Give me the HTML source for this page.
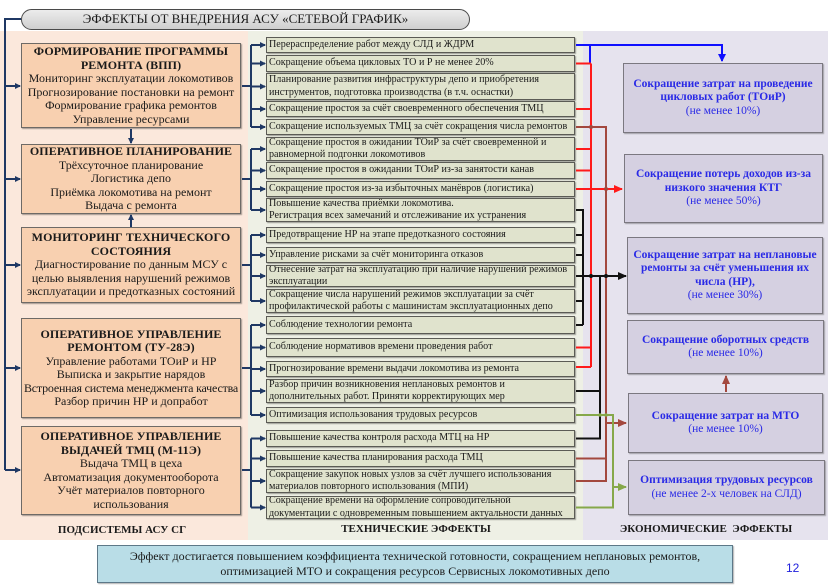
<!DOCTYPE html>
<html><head><meta charset="utf-8">
<style>
*{margin:0;padding:0;box-sizing:border-box}
body{width:840px;height:586px;background:#fff;position:relative;overflow:hidden;font-family:"Liberation Serif",serif;color:#1a1a1a}
.abs{position:absolute}
.panel{position:absolute;top:31px;height:509px}
.lbox{position:absolute;left:21px;width:220px;background:#f8d0b0;border:1.5px solid #6e6a66;box-shadow:1px 1px 1px rgba(0,0,0,.35);text-align:center;font-size:12px;line-height:13.5px;display:flex;flex-direction:column;justify-content:center}
.lbox b{font-size:12px;letter-spacing:.1px}
.mbox{position:absolute;left:266px;width:309px;background:#e0e3cd;border:1px solid #5b5b55;box-shadow:1px 1px 1px rgba(0,0,0,.35);font-size:10.1px;line-height:12.3px;padding-left:2px;display:flex;flex-direction:column;justify-content:center;white-space:nowrap;overflow:hidden}
.rbox{position:absolute;background:#d5d0e1;border:1.5px solid #7b7880;box-shadow:1px 1px 1px rgba(0,0,0,.3);text-align:center;color:#2a2ae6;font-size:11.5px;line-height:13.5px;display:flex;flex-direction:column;justify-content:center;white-space:nowrap}
.rbox b{font-weight:bold}
.lbl{position:absolute;font-weight:bold;font-size:11px;text-align:center;white-space:nowrap}
</style></head><body>

<div class="panel" style="left:0;width:248px;background:#fbe8dc"></div>
<div class="panel" style="left:248px;width:335px;background:#eef0e5"></div>
<div class="panel" style="left:583px;width:245px;background:#e6e3ee"></div>

<!-- Title capsule -->
<div class="abs" style="left:21px;top:9px;width:449px;height:21px;border:1.5px solid #4a4a4a;border-radius:11px;background:linear-gradient(#ececec,#cfcfcf);text-align:center;font-size:13px;line-height:18px;white-space:nowrap">ЭФФЕКТЫ ОТ ВНЕДРЕНИЯ АСУ «СЕТЕВОЙ ГРАФИК»</div>

<!-- Left boxes -->
<div class="lbox" style="top:43px;height:85px"><b>ФОРМИРОВАНИЕ ПРОГРАММЫ</b><b>РЕМОНТА (ВПП)</b><span>Мониторинг эксплуатации локомотивов</span><span>Прогнозирование постановки на ремонт</span><span>Формирование графика ремонтов</span><span>Управление ресурсами</span></div>
<div class="lbox" style="top:144px;height:70px"><b>ОПЕРАТИВНОЕ ПЛАНИРОВАНИЕ</b><span>Трёхсуточное планирование</span><span>Логистика депо</span><span>Приёмка локомотива на ремонт</span><span>Выдача с ремонта</span></div>
<div class="lbox" style="top:227px;height:76px"><b>МОНИТОРИНГ ТЕХНИЧЕСКОГО</b><b>СОСТОЯНИЯ</b><span>Диагностирование по данным МСУ с</span><span>целью выявления нарушений режимов</span><span>эксплуатации и предотказных состояний</span></div>
<div class="lbox" style="top:318px;height:100px"><b>ОПЕРАТИВНОЕ УПРАВЛЕНИЕ</b><b>РЕМОНТОМ (ТУ-28Э)</b><span>Управление работами ТОиР и НР</span><span>Выписка и закрытие нарядов</span><span style="white-space:nowrap;letter-spacing:-.2px">Встроенная система менеджмента качества</span><span>Разбор причин НР и допработ</span></div>
<div class="lbox" style="top:426px;height:89px"><b>ОПЕРАТИВНОЕ УПРАВЛЕНИЕ</b><b>ВЫДАЧЕЙ ТМЦ (М-11Э)</b><span>Выдача ТМЦ в цеха</span><span>Автоматизация документооборота</span><span>Учёт материалов повторного</span><span>использования</span></div>

<!-- Middle boxes -->
<div class="mbox" style="top:37px;height:16px">Перераспределение работ между СЛД и ЖДРМ</div>
<div class="mbox" style="top:55px;height:17px">Сокращение объема цикловых ТО и Р не менее 20%</div>
<div class="mbox" style="top:73px;height:27px"><span>Планирование развития инфраструктуры депо и приобретения</span><span>инструментов, подготовка производства (в т.ч. оснастки)</span></div>
<div class="mbox" style="top:101px;height:16px">Сокращение простоя за счёт своевременного обеспечения ТМЦ</div>
<div class="mbox" style="top:119px;height:16px">Сокращение используемых ТМЦ за счёт сокращения числа ремонтов</div>
<div class="mbox" style="top:137px;height:24px"><span>Сокращение простоя в ожидании ТОиР за счёт своевременной и</span><span>равномерной подгонки локомотивов</span></div>
<div class="mbox" style="top:162px;height:17px">Сокращение простоя в ожидании ТОиР из-за занятости канав</div>
<div class="mbox" style="top:181px;height:16px">Сокращение простоя из-за избыточных манёвров (логистика)</div>
<div class="mbox" style="top:198px;height:24px"><span>Повышение качества приёмки локомотива.</span><span>Регистрация всех замечаний и отслеживание их устранения</span></div>
<div class="mbox" style="top:227px;height:16px">Предотвращение НР на этапе предотказного состояния</div>
<div class="mbox" style="top:247px;height:16px">Управление рисками за счёт мониторинга отказов</div>
<div class="mbox" style="top:265px;height:22px"><span>Отнесение затрат на эксплуатацию при наличие нарушений режимов</span><span>эксплуатации</span></div>
<div class="mbox" style="top:289px;height:24px"><span>Сокращение числа нарушений режимов эксплуатации за счёт</span><span>профилактической работы с машинистам эксплуатационных депо</span></div>
<div class="mbox" style="top:316px;height:18px">Соблюдение технологии ремонта</div>
<div class="mbox" style="top:338px;height:19px">Соблюдение нормативов времени проведения работ</div>
<div class="mbox" style="top:361px;height:16px">Прогнозирование времени выдачи локомотива из ремонта</div>
<div class="mbox" style="top:379px;height:24px"><span>Разбор причин возникновения неплановых ремонтов и</span><span>дополнительных работ. Приняти корректирующих мер</span></div>
<div class="mbox" style="top:407px;height:16px">Оптимизация использования трудовых ресурсов</div>
<div class="mbox" style="top:430px;height:17px">Повышение качества контроля расхода МТЦ на НР</div>
<div class="mbox" style="top:450px;height:17px">Повышение качества планирования расхода ТМЦ</div>
<div class="mbox" style="top:469px;height:24px"><span>Сокращение закупок новых узлов за счёт лучшего использования</span><span>материалов повторного использования (МПИ)</span></div>
<div class="mbox" style="top:496px;height:23px"><span>Сокращение времени на оформление сопроводительной</span><span>документации с одновременным повышением актуальности данных</span></div>

<!-- Right boxes -->
<div class="rbox" style="left:623px;top:63px;width:200px;height:70px"><b>Сокращение затрат на проведение</b><b>цикловых работ (ТОиР)</b><span>(не менее 10%)</span></div>
<div class="rbox" style="left:624px;top:154px;width:199px;height:69px"><b>Сокращение потерь доходов из-за</b><b>низкого значения КТГ</b><span>(не менее 50%)</span></div>
<div class="rbox" style="left:627px;top:237px;width:196px;height:77px"><b>Сокращение затрат на неплановые</b><b>ремонты за счёт уменьшения их</b><b>числа (НР),</b><span>(не менее 30%)</span></div>
<div class="rbox" style="left:627px;top:320px;width:197px;height:54px"><b>Сокращение оборотных средств</b><span>(не менее 10%)</span></div>
<div class="rbox" style="left:628px;top:393px;width:195px;height:60px"><b>Сокращение затрат на МТО</b><span>(не менее 10%)</span></div>
<div class="rbox" style="left:628px;top:460px;width:197px;height:55px"><b>Оптимизация трудовых ресурсов</b><span>(не менее 2-х человек на СЛД)</span></div>

<!-- Labels -->
<div class="lbl" style="left:22px;width:200px;top:524px">ПОДСИСТЕМЫ АСУ СГ</div>
<div class="lbl" style="left:316px;width:200px;top:523px">ТЕХНИЧЕСКИЕ ЭФФЕКТЫ</div>
<div class="lbl" style="left:596px;width:220px;top:523px">ЭКОНОМИЧЕСКИЕ&nbsp; ЭФФЕКТЫ</div>

<!-- Bottom box -->
<div class="abs" style="left:97px;top:545px;width:636px;height:38px;background:#b9dde7;border:1.5px solid #5d7888;box-shadow:1px 1px 1px rgba(0,0,0,.3);text-align:center;font-size:12px;line-height:15px;padding-top:3px;white-space:nowrap">Эффект достигается повышением коэффициента технической готовности, сокращением неплановых ремонтов,<br>оптимизацией МТО и сокращения ресурсов Сервисных локомотивных депо</div>
<div class="abs" style="left:786px;top:561px;font-family:'Liberation Sans',sans-serif;font-size:12px;color:#2222dd">12</div>

<svg class="abs" style="left:0;top:0" width="840" height="586" viewBox="0 0 840 586">
<defs>
<marker id="an" markerWidth="6" markerHeight="6" refX="5" refY="3" orient="auto" markerUnits="userSpaceOnUse"><path d="M0,0 L6,3 L0,6 z" fill="#1f3864"/></marker>
<marker id="ab" markerWidth="8" markerHeight="8" refX="7" refY="4" orient="auto" markerUnits="userSpaceOnUse"><path d="M0,0 L8,4 L0,8 z" fill="#1010ff"/></marker>
<marker id="ar" markerWidth="9" markerHeight="8" refX="8" refY="4" orient="auto" markerUnits="userSpaceOnUse"><path d="M0,0 L9,4 L0,8 z" fill="#ff1a1a"/></marker>
<marker id="ak" markerWidth="9" markerHeight="8" refX="8" refY="4" orient="auto" markerUnits="userSpaceOnUse"><path d="M0,0 L9,4 L0,8 z" fill="#111"/></marker>
<marker id="aw" markerWidth="9" markerHeight="8" refX="8" refY="4" orient="auto" markerUnits="userSpaceOnUse"><path d="M0,0 L9,4 L0,8 z" fill="#a3483e"/></marker>
<marker id="ag" markerWidth="9" markerHeight="8" refX="8" refY="4" orient="auto" markerUnits="userSpaceOnUse"><path d="M0,0 L9,4 L0,8 z" fill="#86a84a"/></marker>
</defs>
<g stroke="#1f3864" stroke-width="2" fill="none">
<path d="M21 19 H5 V470"/>
<path d="M5 86 H20" marker-end="url(#an)"/>
<path d="M5 179 H20" marker-end="url(#an)"/>
<path d="M5 265 H20" marker-end="url(#an)"/>
<path d="M5 368 H20" marker-end="url(#an)"/>
<path d="M5 470 H20" marker-end="url(#an)"/>
<path d="M131 129 V143" marker-end="url(#an)"/>
<path d="M131 227 V215" marker-end="url(#an)"/>
<path d="M242 86 H251 M251 45 V127"/>
<path d="M251 45 H265" marker-end="url(#an)"/><path d="M251 63.5 H265" marker-end="url(#an)"/><path d="M251 86.5 H265" marker-end="url(#an)"/><path d="M251 109 H265" marker-end="url(#an)"/><path d="M251 127 H265" marker-end="url(#an)"/>
<path d="M242 179 H251 M251 149 V210"/>
<path d="M251 149 H265" marker-end="url(#an)"/><path d="M251 170.5 H265" marker-end="url(#an)"/><path d="M251 189 H265" marker-end="url(#an)"/><path d="M251 210 H265" marker-end="url(#an)"/>
<path d="M242 265 H251 M251 235 V301"/>
<path d="M251 235 H265" marker-end="url(#an)"/><path d="M251 255 H265" marker-end="url(#an)"/><path d="M251 276 H265" marker-end="url(#an)"/><path d="M251 301 H265" marker-end="url(#an)"/>
<path d="M242 368 H251 M251 325 V415"/>
<path d="M251 325 H265" marker-end="url(#an)"/><path d="M251 347.5 H265" marker-end="url(#an)"/><path d="M251 369 H265" marker-end="url(#an)"/><path d="M251 391 H265" marker-end="url(#an)"/><path d="M251 415 H265" marker-end="url(#an)"/>
<path d="M242 470 H251 M251 438.5 V507.5"/>
<path d="M251 438.5 H265" marker-end="url(#an)"/><path d="M251 458.5 H265" marker-end="url(#an)"/><path d="M251 481 H265" marker-end="url(#an)"/><path d="M251 507.5 H265" marker-end="url(#an)"/>
</g>
<g fill="none" stroke-width="2">
<path d="M576 45 H722 V61" stroke="#1010ff" marker-end="url(#ab)"/>
<path d="M590 45 V63" stroke="#1010ff"/>
<g stroke="#ff1a1a">
<path d="M591 63.5 V367"/>
<path d="M576 63.5 H591 M576 109 H591 M576 149 H591 M576 170.5 H591 M576 347.5 H591 M576 367 H591"/>
<path d="M576 189 H622" marker-end="url(#ar)"/>
</g>
<g stroke="#a3483e">
<path d="M576 127 H606 V482"/>
<path d="M576 458.5 H606 M576 481 H606"/>
<path d="M606 423 H626" marker-end="url(#aw)"/>
<path d="M726 392 V376" marker-end="url(#aw)"/>
</g>
<g stroke="#111">
<path d="M576 210 H583 V325 M576 235 H583 M576 255 H583 M576 301 H583 M576 325 H583"/>
<path d="M576 276 H626" marker-end="url(#ak)"/>
<path d="M600 276 V438.5 H576 M576 391 H600"/>
</g>
<g stroke="#86a84a">
<path d="M576 415 H613 V507.5 H576"/>
<path d="M613 487 H626" marker-end="url(#ag)"/>
</g>
</g>
<g>
<circle cx="591" cy="127" r="2" fill="#a3483e"/>
<circle cx="606" cy="189" r="2" fill="#a3483e"/>
<circle cx="591" cy="276" r="2" fill="#111"/>
<circle cx="606" cy="276" r="2" fill="#111"/>
<circle cx="600" cy="415" r="1.8" fill="#86a84a"/>
<circle cx="606" cy="415" r="1.8" fill="#86a84a"/>
</g>
</svg>
</body></html>
